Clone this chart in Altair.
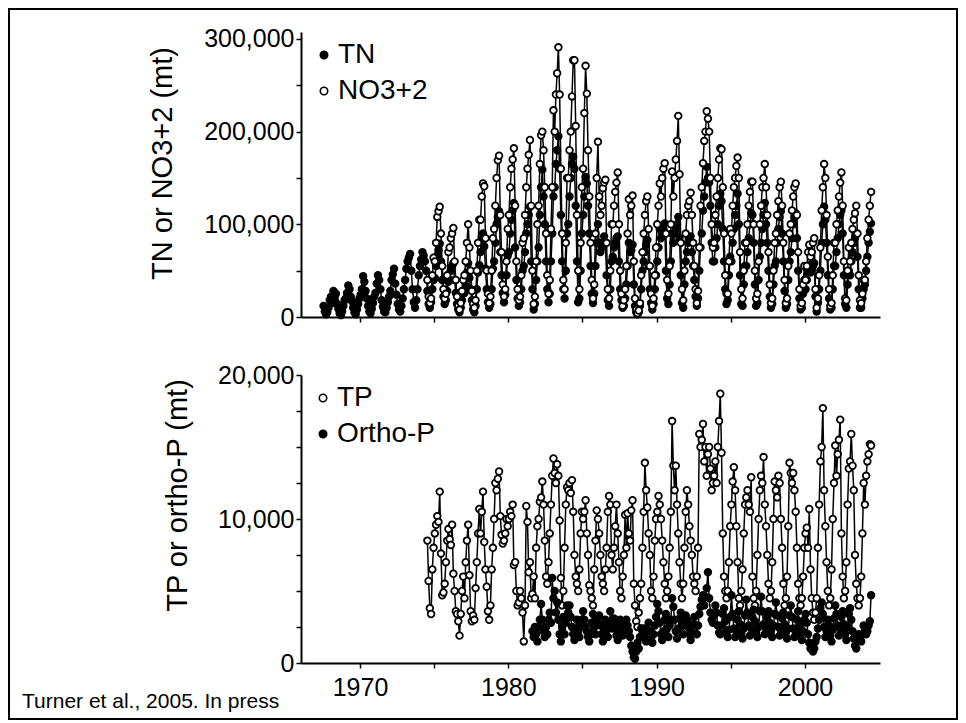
import altair as alt
import pandas as pd

FONT = "Liberation Sans, Arial, Helvetica, sans-serif"

# ---- monthly loads, thousands of metric tons (N) ----
TN_START = (1967, 7)
TN_K = [
    12, 6, 3, 5, 10, 18,                                   # 1967 Jul-Dec
    22, 15, 28, 20, 25, 14, 9, 4, 2, 6, 12, 18,            # 1968
    20, 26, 34, 30, 22, 17, 10, 5, 3, 8, 14, 20,           # 1969
    24, 30, 44, 38, 28, 20, 12, 6, 4, 9, 15, 22,           # 1970
    26, 36, 45, 40, 30, 18, 11, 6, 5, 10, 16, 22,          # 1971
    28, 40, 46, 52, 36, 24, 14, 8, 6, 12, 20, 30,          # 1972
    40, 52, 60, 64, 68, 50, 30, 16, 10, 18, 30, 45,        # 1973
    55, 62, 70, 66, 60, 50, 28, 14, 10, 16, 30, 40,        # 1974
    42, 55, 66, 72, 79, 60, 40, 22, 14, 18, 28, 38,        # 1975
    40, 50, 55, 58, 40, 26, 14, 8, 5, 10, 18, 25,          # 1976
    26, 34, 48, 58, 42, 30, 18, 8, 5, 12, 30, 48,          # 1977
    56, 70, 84, 90, 76, 52, 30, 16, 10, 14, 30, 52,        # 1978
    60, 80, 100, 108, 114, 70, 45, 26, 16, 24, 45, 66,     # 1979
    70, 90, 105, 115, 123, 75, 40, 20, 12, 16, 30, 50,     # 1980
    55, 70, 90, 100, 110, 119, 60, 30, 8, 14, 40, 60,      # 1981
    75, 110, 140, 159, 130, 100, 60, 30, 16, 25, 60, 90,   # 1982
    130, 140, 165, 180, 195, 160, 110, 60, 30, 20, 50, 90, # 1983
    100, 130, 150, 165, 173, 160, 120, 60, 16, 20, 50, 90, # 1984
    110, 130, 151, 144, 120, 90, 55, 25, 15, 25, 55, 80,   # 1985
    100, 80, 70, 75, 80, 87, 80, 45, 18, 12, 30, 60,       # 1986
    65, 75, 80, 85, 87, 60, 30, 18, 10, 12, 20, 35,        # 1987
    55, 80, 70, 72, 78, 35, 12, 5, 3, 5, 12, 30,           # 1988
    50, 60, 70, 78, 83, 55, 30, 15, 8, 14, 30, 45,         # 1989
    60, 75, 95, 85, 90, 95, 101, 50, 20, 14, 35, 60,       # 1990
    90, 80, 90, 95, 100, 108, 85, 45, 15, 10, 35, 60,      # 1991
    70, 80, 84, 87, 70, 55, 40, 22, 12, 20, 50, 75,        # 1992
    90, 115, 130, 145, 162, 150, 145, 120, 80, 60, 60, 75, # 1993
    85, 100, 120, 133, 125, 95, 60, 30, 14, 18, 45, 65,    # 1994
    60, 80, 95, 110, 120, 133, 100, 45, 14, 12, 35, 55,    # 1995
    55, 70, 85, 100, 112, 110, 80, 35, 12, 15, 40, 65,     # 1996
    80, 95, 110, 123, 100, 80, 50, 22, 10, 14, 35, 55,     # 1997
    60, 80, 95, 108, 114, 90, 60, 28, 10, 14, 40, 60,      # 1998
    70, 85, 100, 108, 112, 85, 50, 20, 8, 10, 25, 40,      # 1999
    30, 40, 50, 56, 48, 52, 55, 58, 22, 6, 15, 30,         # 2000
    50, 80, 100, 119, 105, 80, 45, 20, 8, 10, 30, 55,      # 2001
    55, 70, 85, 100, 110, 115, 90, 45, 14, 10, 35, 50,     # 2002
    45, 60, 70, 80, 85, 90, 65, 30, 10, 10, 20, 30,        # 2003
    35, 50, 65, 80, 92, 101,                               # 2004 Jan-Jun
]

NO3_START = (1974, 7)
NO3_K = [
    40, 22, 15, 20, 45, 64,                                    # 1974 Jul-Dec
    60, 80, 108, 114, 119, 90, 55, 30, 20, 25, 45, 70,         # 1975
    75, 85, 90, 96, 60, 40, 22, 12, 8, 15, 28, 40,             # 1976
    45, 60, 80, 100, 75, 50, 28, 14, 10, 18, 50, 80,           # 1977
    105, 105, 130, 144, 141, 85, 50, 25, 15, 22, 50, 85,       # 1978
    95, 120, 150, 169, 174, 110, 70, 35, 22, 30, 60, 95,       # 1979
    110, 140, 160, 170, 182, 120, 60, 30, 18, 22, 45, 80,      # 1980
    85, 110, 140, 160, 175, 191, 120, 50, 14, 22, 60, 100,     # 1981
    120, 165, 196, 200, 180, 140, 90, 45, 25, 40, 95, 140,     # 1982
    223, 200, 240, 263, 291, 240, 160, 90, 40, 30, 80, 150,    # 1983
    150, 180, 200, 238, 277, 277, 206, 110, 50, 30, 80, 140,   # 1984
    160, 220, 271, 241, 180, 130, 80, 40, 20, 35, 90, 150,     # 1985
    189, 130, 110, 120, 139, 145, 148, 80, 30, 20, 50, 100,    # 1986
    100, 120, 135, 145, 156, 100, 50, 25, 12, 18, 30, 55,      # 1987
    90, 127, 110, 120, 131, 60, 20, 8, 4, 7, 15, 45,           # 1988
    70, 90, 110, 125, 130, 95, 55, 25, 12, 20, 45, 75,         # 1989
    100, 120, 144, 130, 150, 160, 166, 90, 40, 25, 55, 100,    # 1990
    157, 130, 150, 170, 190, 217, 154, 80, 30, 18, 50, 90,     # 1991
    110, 120, 125, 134, 110, 80, 55, 30, 15, 28, 75, 120,      # 1992
    140, 166, 190, 200, 222, 214, 200, 150, 100, 75, 80, 110,  # 1993
    130, 150, 170, 182, 181, 140, 90, 45, 25, 25, 60, 95,      # 1994
    90, 120, 140, 150, 163, 172, 150, 70, 30, 20, 50, 80,      # 1995
    80, 100, 120, 135, 146, 146, 100, 50, 20, 25, 60, 100,     # 1996
    120, 140, 150, 165, 140, 110, 70, 35, 15, 20, 50, 80,      # 1997
    90, 110, 125, 140, 146, 120, 80, 40, 15, 20, 55, 90,       # 1998
    100, 115, 130, 140, 144, 110, 70, 30, 12, 15, 35, 55,      # 1999
    40, 55, 70, 78, 65, 70, 80, 85, 30, 10, 20, 45,            # 2000
    75, 115, 140, 165, 150, 110, 65, 30, 12, 15, 45, 80,       # 2001
    80, 100, 115, 130, 145, 156, 120, 60, 20, 18, 50, 75,      # 2002
    60, 80, 95, 105, 112, 120, 90, 45, 18, 15, 25, 40,         # 2003
    40, 60, 85, 105, 120, 135,                                 # 2004 Jan-Jun
]

# ---- monthly loads, thousands of metric tons (P) ----
TP_START = (1974, 7)
TP_K = [
    8.5, 5.7, 3.8, 3.4, 6.5, 8.0,                                  # 1974 Jul-Dec
    9.0, 9.6, 10.2, 9.8, 11.9, 7.6, 4.7, 4.9, 5.5, 7.0, 8.5, 9.3,  # 1975
    8.6, 8.2, 9.6, 6.2, 5.0, 3.6, 3.4, 2.9, 1.9, 3.4, 5.0, 6.0,    # 1976
    4.5, 7.0, 8.5, 9.6, 6.1, 3.6, 2.9, 3.3, 3.0, 5.2, 7.0, 9.0,    # 1977
    10.7, 9.0, 10.5, 11.9, 8.4, 6.5, 5.3, 3.6, 3.0, 4.0, 6.5, 8.0, # 1978
    10.0, 12.5, 12.0, 12.8, 13.3, 10.2, 8.9, 8.3, 8.5, 9.0, 10.0, 9.5,  # 1979
    10.0, 10.5, 10.2, 11.0, 6.8, 7.0, 5.0, 4.0, 4.2, 5.0, 4.5, 3.5,     # 1980
    1.5, 4.0, 10.9, 9.8, 6.3, 7.0, 4.5, 4.8, 6.0, 4.5, 8.0, 9.5,        # 1981
    10.0, 11.2, 11.5, 12.6, 11.0, 8.5, 6.0, 5.5, 7.0, 9.0, 11.0, 13.0,  # 1982
    14.2, 13.2, 12.5, 13.8, 13.0, 9.9, 5.9, 4.0, 5.0, 8.0, 11.0, 12.2,  # 1983
    12.0, 12.5, 11.8, 12.7, 10.5, 7.5, 6.0, 5.5, 5.0, 6.5, 9.0, 10.5,   # 1984
    10.0, 10.5, 11.3, 9.0, 7.5, 5.4, 5.0, 4.5, 4.0, 6.5, 8.5, 10.6,     # 1985
    10.0, 9.0, 7.5, 6.0, 5.5, 5.0, 6.5, 8.0, 10.5, 11.6, 11.0, 7.5,     # 1986
    6.5, 8.0, 9.5, 11.0, 9.0, 7.0, 5.0, 4.5, 6.0, 7.5, 10.3, 8.0,       # 1987
    10.4, 9.0, 8.5, 10.6, 11.3, 5.5, 4.0, 2.9, 2.5, 3.5, 4.5, 5.5,      # 1988
    8.0, 10.5, 13.9, 12.0, 10.8, 9.0, 7.5, 5.0, 4.5, 6.0, 8.5, 10.0,    # 1989
    10.5, 11.6, 11.0, 10.0, 8.5, 7.0, 5.5, 4.5, 5.0, 6.0, 8.0, 10.5,    # 1990
    16.8, 13.7, 12.0, 13.7, 11.0, 9.0, 7.0, 5.5, 4.5, 5.5, 8.0, 10.5,   # 1991
    12.0, 11.0, 9.5, 8.5, 7.5, 6.0, 5.5, 5.0, 6.0, 8.0, 15.9, 15.0,     # 1992
    15.5, 16.6, 14.0, 15.0, 13.0, 14.5, 15.0, 13.5, 12.0, 12.5, 13.0, 14.0,  # 1993
    12.5, 15.0, 16.8, 18.7, 14.6, 9.0, 6.0, 5.0, 4.5, 5.0, 7.0, 9.5,    # 1994
    11.0, 12.6, 13.6, 12.0, 9.5, 7.0, 4.5, 4.0, 5.0, 6.5, 9.0, 11.0,    # 1995
    11.5, 12.0, 11.0, 10.5, 12.9, 6.0, 4.5, 4.0, 5.0, 7.5, 10.0, 12.0,  # 1996
    13.0, 12.5, 14.3, 11.0, 9.5, 7.5, 5.5, 4.5, 5.0, 7.0, 10.0, 12.6,   # 1997
    12.0, 11.5, 13.0, 12.5, 10.0, 8.0, 5.5, 4.0, 4.5, 6.0, 9.5, 13.9,   # 1998
    13.2, 12.5, 13.2, 12.0, 10.5, 8.0, 5.5, 4.5, 4.0, 4.5, 6.0, 8.0,    # 1999
    9.0, 9.4, 8.0, 10.7, 6.5, 4.5, 3.5, 3.0, 3.5, 4.5, 8.0, 11.0,       # 2000
    14.0, 15.0, 17.7, 12.0, 9.5, 7.0, 5.0, 4.0, 4.5, 6.5, 10.0, 12.5,   # 2001
    15.1, 13.0, 14.5, 15.5, 16.9, 9.0, 6.0, 4.5, 5.0, 7.0, 11.0, 13.5,  # 2002
    14.0, 15.9, 13.7, 12.0, 7.5, 5.5, 4.5, 4.0, 4.5, 6.0, 9.0, 12.5,    # 2003
    11.0, 13.0, 14.0, 14.5, 15.2, 15.1,                                 # 2004 Jan-Jun
]

OP_START = (1981, 8)
OP_K = [
    2.2, 1.8, 2.5, 2.0, 1.5,                                       # 1981 Aug-Dec
    2.5, 3.0, 4.1, 3.0, 2.2, 1.8, 2.5, 2.0, 3.0, 3.5, 2.8, 5.9,    # 1982
    4.5, 5.0, 3.5, 4.2, 3.0, 2.0, 1.5, 2.5, 3.2, 2.0, 2.8, 4.0,    # 1983
    3.5, 4.0, 3.2, 2.5, 2.0, 1.6, 2.4, 3.0, 2.2, 1.8, 2.5, 3.0,    # 1984
    3.6, 3.0, 2.5, 2.2, 1.8, 1.5, 2.0, 2.8, 3.4, 2.5, 2.0, 3.0,    # 1985
    2.8, 3.3, 2.6, 2.0, 1.5, 2.2, 3.0, 2.5, 1.8, 2.4, 3.6, 2.7,    # 1986
    2.4, 3.1, 2.6, 1.9, 1.6, 2.3, 3.0, 2.4, 1.9, 2.2, 2.8, 3.0,    # 1987
    2.6, 2.2, 1.8, 1.2, 0.8, 0.4, 0.3, 0.8, 1.4, 1.0, 1.8, 2.4,    # 1988
    2.0, 2.4, 1.8, 1.5, 2.2, 2.8, 2.2, 1.6, 1.4, 2.0, 2.6, 3.2,    # 1989
    4.1, 3.6, 2.8, 2.0, 1.6, 2.2, 3.0, 3.4, 2.4, 1.8, 2.6, 3.0,    # 1990
    4.5, 3.9, 3.0, 2.2, 1.7, 2.4, 3.1, 3.5, 2.6, 2.0, 2.8, 3.3,    # 1991
    3.0, 2.5, 2.0, 1.6, 2.1, 2.7, 3.2, 2.6, 2.0, 2.6, 3.4, 3.9,    # 1992
    4.4, 4.7, 4.0, 4.6, 5.2, 6.3, 4.5, 3.5, 3.0, 2.8, 3.3, 4.0,    # 1993
    3.5, 2.6, 2.1, 2.0, 2.6, 3.4, 3.8, 2.9, 2.2, 1.8, 2.3, 3.2,    # 1994
    4.7, 3.4, 2.4, 1.8, 2.2, 3.0, 3.6, 2.7, 2.0, 1.7, 2.4, 3.3,    # 1995
    4.4, 3.5, 2.6, 1.9, 2.4, 3.2, 3.7, 2.9, 2.1, 1.8, 2.5, 3.6,    # 1996
    4.6, 3.6, 2.7, 2.0, 2.4, 3.2, 3.6, 2.8, 2.2, 1.8, 2.6, 3.4,    # 1997
    4.2, 3.3, 2.5, 1.9, 2.3, 3.1, 3.5, 2.7, 2.1, 1.7, 2.4, 3.3,    # 1998
    4.0, 3.2, 2.4, 1.8, 2.2, 3.0, 3.6, 2.6, 2.0, 1.6, 2.2, 3.0,    # 1999
    3.4, 2.8, 2.0, 1.4, 1.0, 1.2, 0.8, 1.0, 1.5, 1.8, 2.4, 3.0,    # 2000
    3.8, 4.2, 3.4, 2.5, 1.8, 2.2, 3.0, 2.6, 1.9, 1.5, 2.3, 3.1,    # 2001
    4.0, 3.4, 2.6, 1.9, 2.4, 3.2, 3.6, 2.7, 2.0, 1.6, 2.5, 3.4,    # 2002
    3.8, 3.0, 2.2, 1.7, 1.2, 1.0, 1.6, 2.0, 1.8, 1.5, 2.0, 2.6,    # 2003
    2.4, 2.0, 2.2, 2.6, 2.9, 4.7,                                  # 2004 Jan-Jun
]

TOP_SERIES = ["TN", "NO3+2"]
BOTTOM_SERIES = ["TP", "Ortho-P"]
YEAR_TICKS = [1970, 1975, 1980, 1985, 1990, 1995, 2000]
TOP_Y_TICKS = [0, 50000, 100000, 150000, 200000, 250000, 300000]
BOTTOM_Y_TICKS = [0, 2500, 5000, 7500, 10000, 12500, 15000, 17500, 20000]
FOOTER = "Turner et al., 2005. In press"


def frame(name, start, vals):
    y0, m0 = start
    rows = []
    for i, v in enumerate(vals):
        k = (m0 - 1) + i
        rows.append({"x": y0 + k // 12 + (k % 12 + 0.5) / 12.0,
                     "v": v * 1000.0, "series": name})
    return pd.DataFrame(rows)


top_df = pd.concat([frame("TN", TN_START, TN_K), frame("NO3+2", NO3_START, NO3_K)])
bot_df = pd.concat([frame("TP", TP_START, TP_K), frame("Ortho-P", OP_START, OP_K)])

XDOM = [1966.02, 2005.06]
W = 579

ax_common = dict(domainColor="black", domainWidth=2, tickColor="black",
                 tickWidth=1.5, tickSize=5, labelColor="black",
                 labelFont=FONT, labelFontSize=25, titleFont=FONT,
                 titleFontSize=29, titleFontWeight="normal", titleColor="black",
                 grid=False)

x_top = alt.X("x:Q", scale=alt.Scale(domain=XDOM, nice=False, zero=False),
              axis=alt.Axis(values=YEAR_TICKS, labels=False, title=None, **ax_common))
x_bot = alt.X("x:Q", scale=alt.Scale(domain=XDOM, nice=False, zero=False),
              axis=alt.Axis(values=YEAR_TICKS, format="d", title=None, labelPadding=7,
                            labelExpr="datum.value % 10 == 0 ? datum.label : ''",
                            **ax_common))

y_top = alt.Y("v:Q", scale=alt.Scale(domain=[0, 307500], nice=False),
              axis=alt.Axis(values=TOP_Y_TICKS, format=",d", labelPadding=2,
                            labelExpr="datum.value % 100000 == 0 ? datum.label : ''",
                            title="TN or NO3+2 (mt)", titleX=-124, titleY=131,
                            titleBaseline="bottom", **ax_common))
y_bot = alt.Y("v:Q", scale=alt.Scale(domain=[0, 20000], nice=False),
              axis=alt.Axis(values=BOTTOM_Y_TICKS, format=",d", labelPadding=2,
                            labelExpr="datum.value % 10000 == 0 ? datum.label : ''",
                            title="TP or ortho-P (mt)", titleX=-109, titleY=120,
                            titleBaseline="bottom", **ax_common))


def legend(x, y):
    return alt.Legend(orient="none", legendX=x, legendY=y, title=None,
                      labelFont=FONT, labelFontSize=28, labelColor="black",
                      symbolType="circle", symbolSize=55, symbolStrokeColor="black",
                      symbolStrokeWidth=1.6, rowPadding=8, labelOffset=0, padding=0)


def panel(df, order, fills, xenc, yenc, leg):
    fill = alt.Fill("series:N", scale=alt.Scale(domain=order, range=fills), legend=leg)
    layers = []
    for s in order:
        base = alt.Chart(df).transform_filter(alt.datum.series == s)
        layers.append(base.mark_line(color="black", strokeWidth=1.5).encode(x=xenc, y=yenc))
        layers.append(base.mark_point(shape="circle", filled=True, stroke="black",
                                      strokeWidth=1.8, size=44, opacity=1)
                      .encode(x=xenc, y=yenc, fill=fill))
    return layers


top_layers = panel(top_df, TOP_SERIES, ["black", "white"], x_top, y_top, legend(9, 9))
bot_layers = panel(bot_df, BOTTOM_SERIES, ["white", "black"], x_bot, y_bot, legend(8, 9))

border = alt.Chart(pd.DataFrame({"k": [0]})).mark_rect(
    filled=False, stroke="black", strokeWidth=2).encode(
    x=alt.value(-292), x2=alt.value(656), y=alt.value(-23), y2=alt.value(687))

footer = alt.Chart(pd.DataFrame({"label": [FOOTER]})).mark_text(
    font=FONT, fontSize=21, color="black", align="left", baseline="alphabetic").encode(
    text="label:N", x=alt.value(-279), y=alt.value(333))

top = alt.layer(border, *top_layers).properties(width=W, height=285)
bottom = alt.layer(*bot_layers, footer).properties(width=W, height=288)

chart = (alt.vconcat(top, bottom, spacing=58, bounds="flush")
         .resolve_scale(fill="independent", y="independent")
         .resolve_legend(fill="independent")
         .properties(padding=0, background="white")
         .configure_view(stroke=None))

chart.save("out.html", embed_options={"renderer": "svg", "actions": False})
